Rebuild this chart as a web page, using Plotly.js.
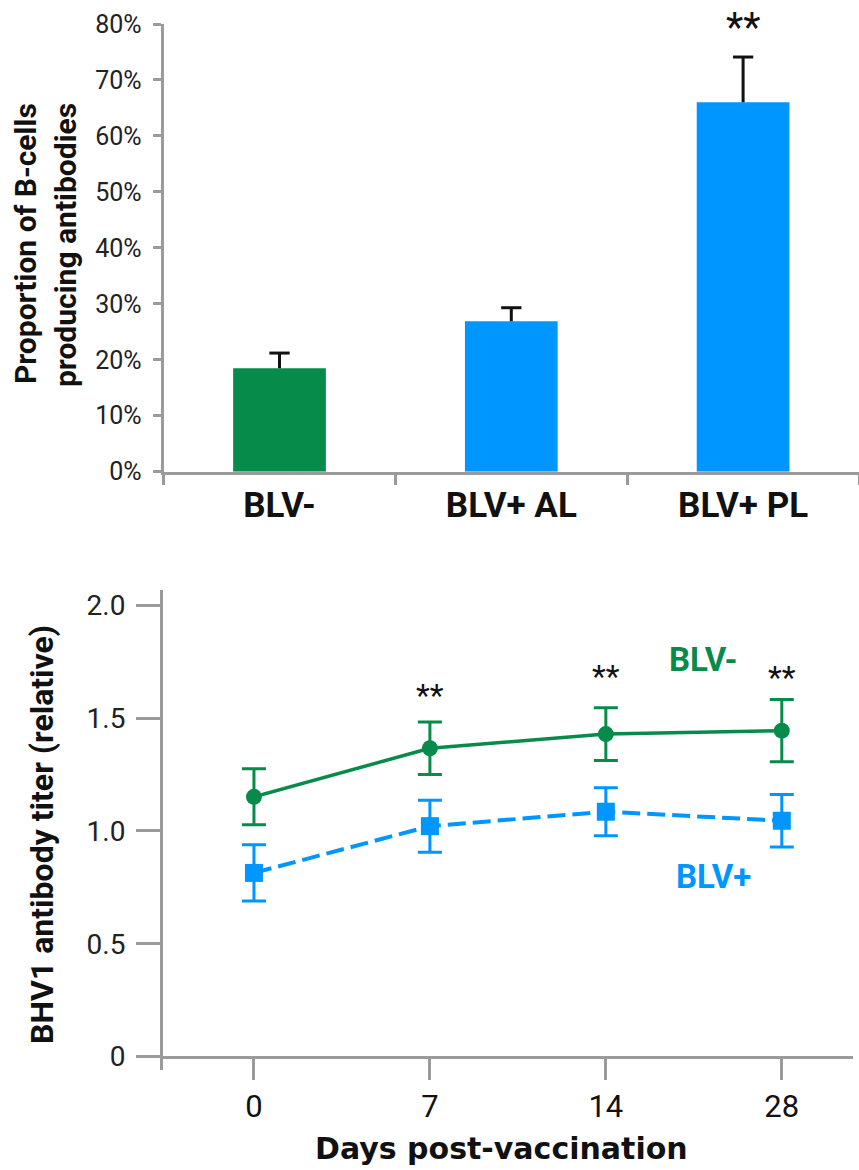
<!DOCTYPE html>
<html><head><meta charset="utf-8">
<script src="https://cdn.plot.ly/plotly-3.0.1.min.js"></script>
<style>html,body{margin:0;padding:0;background:#fff}#chart{width:859px;height:1170px}</style>
</head><body><div id="chart"></div>
<script>
// ---- Top panel data ----
const groups = ['BLV-', 'BLV+ AL', 'BLV+ PL'];
const proportion = [18.5, 26.9, 66.0];
const proportionErr = [2.7, 2.4, 8.1];
const barColors = ['#078B4B', '#0096FF', '#0096FF'];
const sigTop = ['', '', '**'];
const pctTicks = [0, 10, 20, 30, 40, 50, 60, 70, 80];
const pctLabels = ['0%', '10%', '20%', '30%', '40%', '50%', '60%', '70%', '80%'];

// ---- Bottom panel data ----
const days = ['0', '7', '14', '28'];
const titerNeg = [1.151, 1.366, 1.429, 1.444];
const titerNegErr = [0.124, 0.116, 0.117, 0.138];
const titerPos = [0.814, 1.021, 1.085, 1.045];
const titerPosErr = [0.125, 0.115, 0.106, 0.116];
const sigDays = ['7', '14', '28'];
const sigY = [1.601, 1.688, 1.682];
const titerTicks = [0, 0.5, 1, 1.5, 2];
const titerLabels = ['0', '0.5', '1.0', '1.5', '2.0'];

const GREEN = '#078B4B', BLUE = '#0096FF', AXIS = '#9B9B9B';
const W = 859, H = 1170;
const px = v => v / W, py = v => 1 - v / H;

const traces = [
  {
    type: 'bar', x: groups, y: proportion, xaxis: 'x', yaxis: 'y',
    marker: {color: barColors, line: {width: 0}}, width: 0.4,
    error_y: {type: 'data', symmetric: false, array: proportionErr,
      arrayminus: proportionErr.map(() => 0), width: 0, thickness: 3, color: '#111'},
    hoverinfo: 'skip', showlegend: false
  },
  {
    type: 'scatter', mode: 'markers', x: groups,
    y: proportion.map((v, i) => v + proportionErr[i]), xaxis: 'x', yaxis: 'y',
    marker: {symbol: 'line-ew', size: 14.5, color: '#111', line: {width: 3, color: '#111'}},
    hoverinfo: 'skip', showlegend: false, cliponaxis: false
  },
  {
    type: 'scatter', mode: 'lines+markers', x: days, y: titerNeg, xaxis: 'x2', yaxis: 'y2',
    line: {color: GREEN, width: 3.5},
    marker: {symbol: 'circle', size: 16, color: GREEN},
    error_y: {type: 'data', array: titerNegErr, width: 12, thickness: 3, color: GREEN},
    name: 'BLV-', showlegend: false, cliponaxis: false
  },
  {
    type: 'scatter', mode: 'lines+markers', x: days, y: titerPos, xaxis: 'x2', yaxis: 'y2',
    line: {color: BLUE, width: 4, dash: '18px,7px'},
    marker: {symbol: 'square', size: 18, color: BLUE},
    error_y: {type: 'data', array: titerPosErr, width: 12, thickness: 3, color: BLUE},
    name: 'BLV+', showlegend: false, cliponaxis: false
  }
];

const annotations = [
  {text: 'Proportion of B-cells', xref: 'paper', yref: 'paper', x: px(25), y: py(244),
   textangle: -90, showarrow: false, xanchor: 'center', yanchor: 'middle',
   font: {family: 'Roboto', size: 30, color: '#111', weight: 'bold'}},
  {text: 'producing antibodies', xref: 'paper', yref: 'paper', x: px(65), y: py(245),
   textangle: -90, showarrow: false, xanchor: 'center', yanchor: 'middle',
   font: {family: 'Roboto', size: 30, color: '#111', weight: 'bold'}},
  {text: 'BHV1 antibody titer (relative)', xref: 'paper', yref: 'paper', x: px(42), y: py(835),
   textangle: -90, showarrow: false, xanchor: 'center', yanchor: 'middle',
   font: {family: 'Roboto', size: 32, color: '#111', weight: 'bold'}},
  {text: 'Days post-vaccination', xref: 'paper', yref: 'paper', x: px(502), y: py(1148),
   showarrow: false, xanchor: 'center', yanchor: 'middle',
   font: {family: 'DejaVu Sans', size: 30, color: '#111', weight: 'bold'}},
  {text: 'BLV-', xref: 'x2', yref: 'y2', x: 2.55, y: 1.757, showarrow: false,
   xanchor: 'center', yanchor: 'middle', font: {family: 'Roboto', size: 33, color: GREEN, weight: 'bold'}},
  {text: 'BLV+', xref: 'x2', yref: 'y2', x: 2.614, y: 0.798, showarrow: false,
   xanchor: 'center', yanchor: 'middle', font: {family: 'Roboto', size: 33, color: BLUE, weight: 'bold'}}
];
groups.forEach((g, i) => {
  if (sigTop[i]) annotations.push({text: sigTop[i], xref: 'x', yref: 'paper', x: i, y: py(27),
    showarrow: false, xanchor: 'center', yanchor: 'middle',
    font: {family: 'Roboto', size: 40, color: '#111'}});
});
sigDays.forEach((d, i) => annotations.push({text: '**', xref: 'x2', yref: 'y2',
  x: days.indexOf(d), y: sigY[i], showarrow: false, xanchor: 'center', yanchor: 'middle',
  font: {family: 'Roboto', size: 32, color: '#111'}}));

const y2lo = -0.059, y2hi = 2.067;
const y2d = [py(1070), py(590)];
const zeroPos = y2d[0] + (0 - y2lo) / (y2hi - y2lo) * (y2d[1] - y2d[0]);

const layout = {
  width: W, height: H,
  margin: {l: 0, r: 0, t: 0, b: 0},
  paper_bgcolor: '#fff', plot_bgcolor: '#fff',
  font: {family: 'Roboto', color: '#222'},
  showlegend: false,
  xaxis: {
    domain: [px(163.6), 1], anchor: 'y', type: 'category', categoryarray: groups,
    range: [-0.5, 2.5], showgrid: false, zeroline: false,
    showline: true, linecolor: AXIS, linewidth: 3,
    ticks: 'outside', tickson: 'boundaries', ticklen: 10, tickwidth: 3, tickcolor: AXIS,
    tickfont: {family: 'Roboto', size: 35, color: '#111', weight: 'bold'},
    fixedrange: true
  },
  yaxis: {
    domain: [py(471.7), py(24)], anchor: 'x', range: [0, 80],
    tickvals: pctTicks, ticktext: pctLabels,
    showgrid: false, zeroline: false,
    showline: true, linecolor: AXIS, linewidth: 3,
    ticks: 'outside', ticklen: 8, tickwidth: 3, tickcolor: AXIS,
    ticklabelstandoff: 6,
    tickfont: {family: 'Roboto', size: 25, color: '#222'},
    fixedrange: true
  },
  xaxis2: {
    domain: [px(163), px(852.7)], anchor: 'free', position: zeroPos,
    type: 'category', categoryarray: days, range: [-0.517, 3.403],
    showgrid: false, zeroline: false,
    showline: true, linecolor: AXIS, linewidth: 3,
    ticks: 'outside', ticklen: 21, tickwidth: 3, tickcolor: AXIS,
    tickfont: {family: 'Roboto', size: 31, color: '#111'},
    fixedrange: true
  },
  yaxis2: {
    domain: y2d, anchor: 'x2', range: [y2lo, y2hi],
    tickvals: titerTicks, ticktext: titerLabels,
    showgrid: false, zeroline: false,
    showline: true, linecolor: AXIS, linewidth: 3,
    ticks: 'outside', ticklen: 24, tickwidth: 3, tickcolor: AXIS,
    ticklabelstandoff: 5,
    tickfont: {family: 'Roboto', size: 28, color: '#222'},
    fixedrange: true
  },
  annotations: annotations
};

Plotly.newPlot('chart', traces, layout, {displayModeBar: false, staticPlot: true});
</script></body></html>
